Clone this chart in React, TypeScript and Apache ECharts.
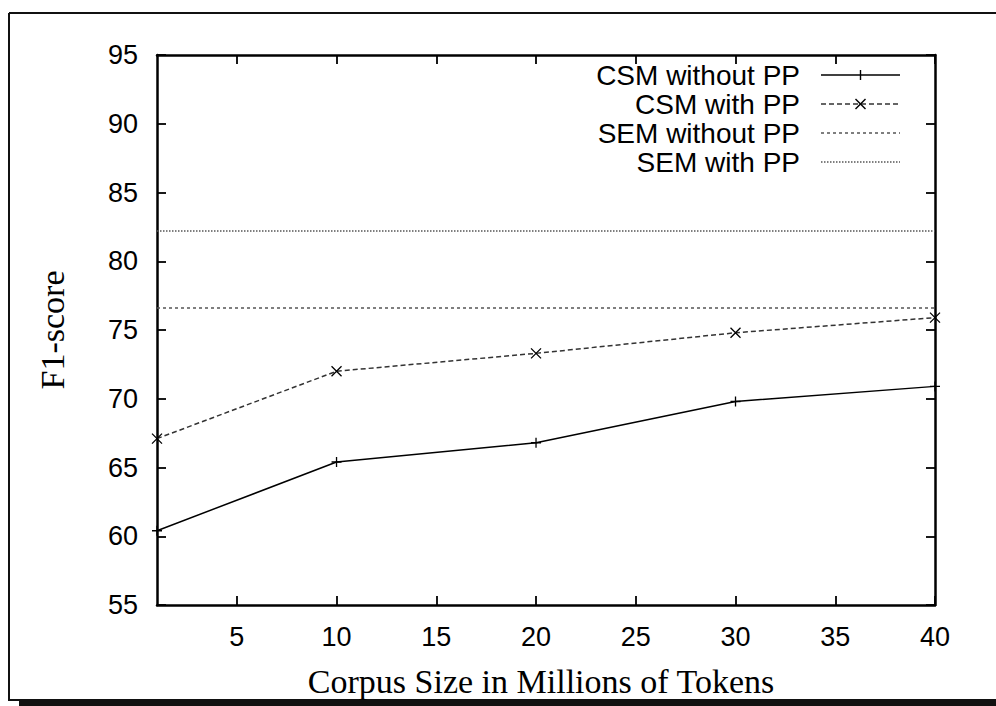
import React, { useEffect, useRef } from "react";
import * as echarts from "echarts";

const corpusSizes = [1, 10, 20, 30, 40];
const csmWithoutPP = [60.4, 65.4, 66.8, 69.8, 70.9];
const csmWithPP = [67.1, 72.0, 73.3, 74.8, 75.9];
const semWithoutPP = 76.6;
const semWithPP = 82.2;
const xTicks = [5, 10, 15, 20, 25, 30, 35, 40];
const seriesNames = ["CSM without PP", "CSM with PP", "SEM without PP", "SEM with PP"];

const PLUS = "path://M0,5L10,5M5,0L5,10";
const CROSS = "path://M0,0L10,10M10,0L0,10";

export default function App() {
  const ref = useRef<HTMLDivElement>(null);
  useEffect(() => {
    if (!ref.current) return;
    const chart = echarts.init(ref.current, null, { renderer: "svg" });
    const sans = "Liberation Sans, Arial, sans-serif";
    const serif = "Liberation Serif, Times New Roman, serif";
    const gl = { left: 157, top: 55, right: 61, bottom: 101 };

    const tickStyle = { show: true, inside: true, length: 9, lineStyle: { color: "#000", width: 1.8 } };
    const axisLine = { show: true, lineStyle: { color: "#000", width: 2.5 } };

    const legendX1 = 821, legendX2 = 900, legendTextRight = 800;
    const rowsY = [75, 104, 133, 162];
    const legendStyles = [
      { color: "#000", dash: null as number[] | null, marker: "plus" },
      { color: "#333", dash: [5, 3], marker: "cross" },
      { color: "#555", dash: [3, 3], marker: null },
      { color: "#555", dash: [1.5, 1.5], marker: null },
    ];
    const legendGraphics: any[] = [];
    seriesNames.forEach((name, i) => {
      const y = rowsY[i];
      const s = legendStyles[i];
      legendGraphics.push({
        type: "text",
        x: legendTextRight,
        y,
        style: { text: name, font: `28px ${sans}`, fill: "#000", textAlign: "right", textVerticalAlign: "middle" },
      });
      legendGraphics.push({
        type: "line",
        shape: { x1: legendX1, y1: y, x2: legendX2, y2: y },
        style: { stroke: s.color, lineWidth: 1.4, lineDash: s.dash || undefined },
      });
      const cx = (legendX1 + legendX2) / 2;
      if (s.marker === "plus") {
        legendGraphics.push({ type: "line", shape: { x1: cx, y1: y - 5, x2: cx, y2: y + 5 }, style: { stroke: "#000", lineWidth: 1.4 } });
      } else if (s.marker === "cross") {
        legendGraphics.push({ type: "line", shape: { x1: cx - 5, y1: y - 5, x2: cx + 5, y2: y + 5 }, style: { stroke: "#000", lineWidth: 1.4 } });
        legendGraphics.push({ type: "line", shape: { x1: cx - 5, y1: y + 5, x2: cx + 5, y2: y - 5 }, style: { stroke: "#000", lineWidth: 1.4 } });
      }
    });

    chart.setOption({
      animation: false,
      backgroundColor: "#fff",
      grid: gl,
      xAxis: [
        {
          type: "value",
          min: 1,
          max: 40,
          axisLine,
          axisTick: { ...tickStyle, customValues: xTicks },
          axisLabel: { customValues: xTicks, color: "#000", fontSize: 27, fontFamily: sans, margin: 18 },
          splitLine: { show: false },
        },
        {
          type: "value",
          position: "top",
          min: 1,
          max: 40,
          axisLine,
          axisTick: { ...tickStyle, customValues: xTicks },
          axisLabel: { show: false, customValues: xTicks },
          splitLine: { show: false },
        },
      ],
      yAxis: [
        {
          type: "value",
          min: 55,
          max: 95,
          interval: 5,
          axisLine,
          axisTick: tickStyle,
          axisLabel: { color: "#000", fontSize: 27, fontFamily: sans, margin: 19 },
          splitLine: { show: false },
        },
        {
          type: "value",
          position: "right",
          min: 55,
          max: 95,
          interval: 5,
          axisLine,
          axisTick: tickStyle,
          axisLabel: { show: false },
          splitLine: { show: false },
        },
      ],
      series: [
        {
          name: seriesNames[0],
          type: "line",
          xAxisIndex: 0,
          yAxisIndex: 0,
          data: corpusSizes.map((x, i) => [x, csmWithoutPP[i]]),
          symbol: PLUS,
          symbolSize: 10,
          itemStyle: { color: "transparent", borderColor: "#000", borderWidth: 1.3 },
          lineStyle: { color: "#000", width: 1.5, type: "solid" },
        },
        {
          name: seriesNames[1],
          type: "line",
          xAxisIndex: 0,
          yAxisIndex: 0,
          data: corpusSizes.map((x, i) => [x, csmWithPP[i]]),
          symbol: CROSS,
          symbolSize: 10,
          itemStyle: { color: "transparent", borderColor: "#000", borderWidth: 1.3 },
          lineStyle: { color: "#333", width: 1.5, type: [5, 3] },
        },
        {
          name: seriesNames[2],
          type: "line",
          xAxisIndex: 0,
          yAxisIndex: 0,
          data: [[corpusSizes[0], semWithoutPP], [corpusSizes[corpusSizes.length - 1], semWithoutPP]],
          symbol: "none",
          lineStyle: { color: "#555", width: 1.5, type: [3, 3] },
        },
        {
          name: seriesNames[3],
          type: "line",
          xAxisIndex: 0,
          yAxisIndex: 0,
          data: [[corpusSizes[0], semWithPP], [corpusSizes[corpusSizes.length - 1], semWithPP]],
          symbol: "none",
          lineStyle: { color: "#555", width: 1.5, type: [1.5, 1.5] },
        },
      ],
      graphic: [
        // outer frame
        { type: "line", shape: { x1: 9, y1: 13, x2: 996, y2: 13 }, style: { stroke: "#111", lineWidth: 2 } },
        { type: "line", shape: { x1: 9, y1: 13, x2: 9, y2: 701 }, style: { stroke: "#111", lineWidth: 2 } },
        { type: "line", shape: { x1: 9, y1: 700, x2: 20, y2: 700 }, style: { stroke: "#111", lineWidth: 2 } },
        { type: "rect", shape: { x: 19, y: 699, width: 977, height: 7 }, style: { fill: "#111" } },
        // axis titles
        {
          type: "text",
          x: 541,
          y: 681,
          style: { text: "Corpus Size in Millions of Tokens", font: `34px ${serif}`, fill: "#000", textAlign: "center", textVerticalAlign: "middle" },
        },
        {
          type: "text",
          x: 52,
          y: 330,
          rotation: Math.PI / 2,
          style: { text: "F1-score", font: `34px ${serif}`, fill: "#000", textAlign: "center", textVerticalAlign: "middle" },
        },
        ...legendGraphics,
      ],
    });
    return () => chart.dispose();
  }, []);
  return <div ref={ref} style={{ position: "fixed", left: 0, top: 0, width: 996, height: 706 }} />;
}
